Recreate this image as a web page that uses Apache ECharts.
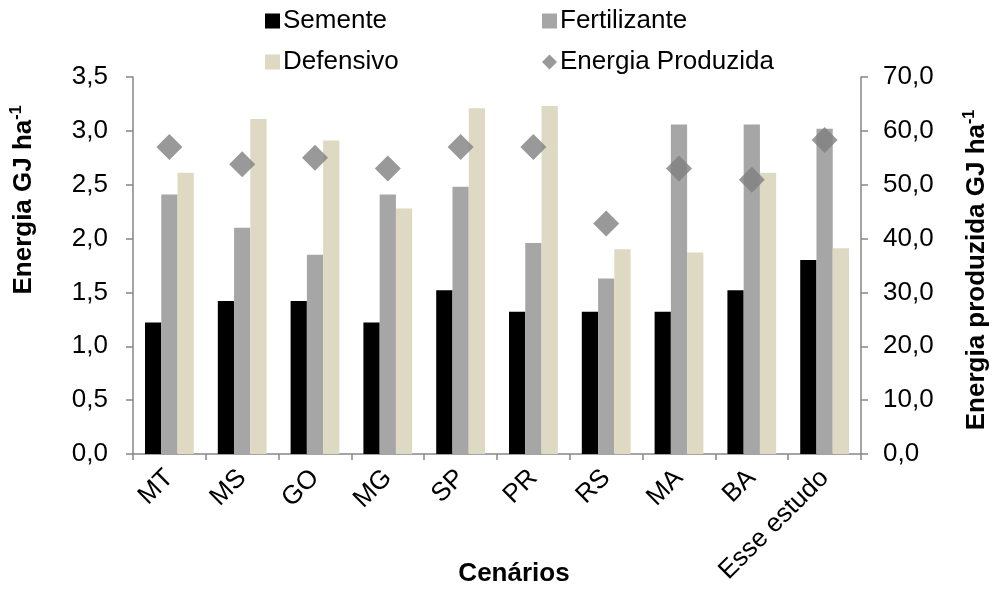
<!DOCTYPE html>
<html>
<head>
<meta charset="utf-8">
<script src="https://cdn.jsdelivr.net/npm/echarts@6/dist/echarts.min.js"></script>
<style>
  html, body { margin: 0; padding: 0; background: #ffffff; }
  #chart { width: 993px; height: 590px; }
</style>
</head>
<body>
<div id="chart"></div>
<script>
// Scenario categories
const categories = ['MT', 'MS', 'GO', 'MG', 'SP', 'PR', 'RS', 'MA', 'BA', 'Esse estudo'];

// Energy inputs per component (GJ ha-1), left axis
const semente = [1.22, 1.42, 1.42, 1.22, 1.52, 1.32, 1.32, 1.32, 1.52, 1.80];
const fertilizante = [2.41, 2.10, 1.85, 2.41, 2.48, 1.96, 1.63, 3.06, 3.06, 3.02];
const defensivo = [2.61, 3.11, 2.91, 2.28, 3.21, 3.23, 1.90, 1.87, 2.61, 1.91];

// Energy produced (GJ ha-1), right axis
const energiaProduzida = [57.0, 53.8, 55.0, 53.0, 57.0, 57.0, 42.8, 53.0, 50.9, 58.3];

const FONT = "'Liberation Sans', Arial, sans-serif";
const AXIS_GRAY = '#868686';
const comma1 = v => v.toFixed(1).replace('.', ',');

const chart = echarts.init(document.getElementById('chart'), null, { renderer: 'canvas' });

const legendBase = {
  orient: 'horizontal',
  padding: 0,
  itemWidth: 15,
  itemHeight: 15,
  textStyle: { fontFamily: FONT, fontSize: 26, color: '#000', padding: [0, 0, 0, -2] },
  selectedMode: false
};

const titleRich = {
  t: { fontFamily: FONT, fontSize: 26, fontWeight: 'bold', fill: '#000', lineHeight: 30 },
  s: { fontFamily: FONT, fontSize: 16, fontWeight: 'bold', fill: '#000', verticalAlign: 'top', lineHeight: 30, padding: [0, 0, 10, 0] }
};

chart.setOption({
  animation: false,
  backgroundColor: '#ffffff',
  textStyle: { fontFamily: FONT },
  grid: { left: 133, right: 132, top: 77, bottom: 136, containLabel: false },
  legend: [
    Object.assign({}, legendBase, { left: 265, top: 8, data: [{ name: 'Semente', icon: 'rect' }] }),
    Object.assign({}, legendBase, { left: 542, top: 8, data: [{ name: 'Fertilizante', icon: 'rect' }] }),
    Object.assign({}, legendBase, { left: 265, top: 49, data: [{ name: 'Defensivo', icon: 'rect' }] }),
    Object.assign({}, legendBase, { left: 542, top: 49, data: [{ name: 'Energia Produzida', icon: 'diamond' }] })
  ],
  xAxis: {
    type: 'category',
    data: categories,
    boundaryGap: true,
    axisLine: { lineStyle: { color: AXIS_GRAY, width: 1.5 } },
    axisTick: { show: true, length: 6, lineStyle: { color: AXIS_GRAY, width: 1.5 } },
    axisLabel: { rotate: 45, margin: 20, fontFamily: FONT, fontSize: 26, color: '#000', interval: 0 },
    splitLine: { show: false }
  },
  yAxis: [
    {
      type: 'value',
      min: 0, max: 3.5, interval: 0.5,
      axisLine: { show: true, lineStyle: { color: AXIS_GRAY, width: 1.5 } },
      axisTick: { show: true, length: 7, lineStyle: { color: AXIS_GRAY, width: 1.5 } },
      axisLabel: { formatter: comma1, margin: 25, fontFamily: FONT, fontSize: 26, color: '#000' },
      splitLine: { show: false }
    },
    {
      type: 'value',
      min: 0, max: 70, interval: 10,
      position: 'right',
      axisLine: { show: true, lineStyle: { color: AXIS_GRAY, width: 1.5 } },
      axisTick: { show: true, length: 7, lineStyle: { color: AXIS_GRAY, width: 1.5 } },
      axisLabel: { formatter: comma1, margin: 22, fontFamily: FONT, fontSize: 26, color: '#000' },
      splitLine: { show: false }
    }
  ],
  series: [
    { name: 'Semente', type: 'bar', data: semente, barGap: '0%', barCategoryGap: '33%',
      itemStyle: { color: '#000000' } },
    { name: 'Fertilizante', type: 'bar', data: fertilizante, barGap: '0%', barCategoryGap: '33%',
      itemStyle: { color: '#a6a6a6' } },
    { name: 'Defensivo', type: 'bar', data: defensivo, barGap: '0%', barCategoryGap: '33%',
      itemStyle: { color: '#ddd9c3' } },
    { name: 'Energia Produzida', type: 'scatter', yAxisIndex: 1, data: energiaProduzida,
      symbol: 'diamond', symbolSize: 26, itemStyle: { color: '#808080' }, z: 5 }
  ],
  graphic: [
    {
      type: 'text', x: 24, y: 200, rotation: Math.PI / 2,
      style: {
        text: '{t|Energia GJ ha}{s|-1}',
        textAlign: 'center', textVerticalAlign: 'middle',
        rich: titleRich
      }
    },
    {
      type: 'text', x: 977, y: 270, rotation: Math.PI / 2,
      style: {
        text: '{t|Energia produzida GJ ha}{s|-1}',
        textAlign: 'center', textVerticalAlign: 'middle',
        rich: titleRich
      }
    },
    {
      type: 'text', x: 514, y: 574,
      style: {
        text: 'Cenários',
        fontFamily: FONT, fontSize: 26, fontWeight: 'bold', fill: '#000',
        textAlign: 'center', textVerticalAlign: 'middle'
      }
    }
  ]
});
</script>
</body>
</html>
